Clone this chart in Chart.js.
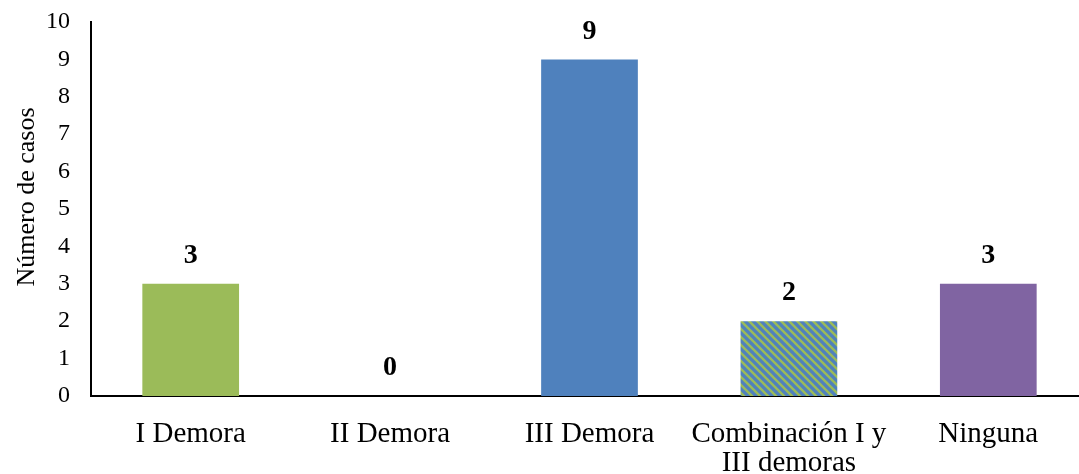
<!DOCTYPE html>
<html>
<head>
<meta charset="utf-8">
<script src="https://cdn.jsdelivr.net/npm/chart.js@4/dist/chart.umd.min.js"></script>
<style>
  html, body { margin: 0; padding: 0; background: #fff; overflow: hidden; }
  #wrap { width: 1090px; height: 474px; }
</style>
</head>
<body>
<div id="wrap"><canvas id="c" width="1090" height="474"></canvas></div>
<script>
// Número de casos por tipo de demora
const categories = ['I Demora', 'II Demora', 'III Demora', ['Combinación I y', 'III demoras'], 'Ninguna'];
const casos = [3, 0, 9, 2, 3];
const yMin = 0;
const yMax = 10;
const yTitle = 'Número de casos';

const GREEN = '#9BBB59';
const BLUE = '#4F81BD';
const PURPLE = '#8064A2';
const SERIF = '"Liberation Serif", "Times New Roman", serif';

// Diagonal green/blue stripes for the combined category
function stripePattern() {
  const s = 8;
  const t = document.createElement('canvas');
  t.width = s; t.height = s;
  const g = t.getContext('2d');
  g.fillStyle = GREEN;
  g.fillRect(0, 0, s, s);
  g.strokeStyle = BLUE;
  g.lineWidth = 3.2;
  g.beginPath();
  for (let k = -1; k <= 1; k++) {
    g.moveTo(k * s - 1, -1);
    g.lineTo(k * s + s + 1, s + 1);
  }
  g.stroke();
  return g.createPattern(t, 'repeat');
}

const ctx = document.getElementById('c').getContext('2d');
const barColors = [GREEN, GREEN, BLUE, stripePattern(), PURPLE];

// Bold value above each bar
const valueLabels = {
  id: 'valueLabels',
  afterDatasetsDraw(chart) {
    const c = chart.ctx;
    const meta = chart.getDatasetMeta(0);
    c.save();
    c.font = 'bold 28px ' + SERIF;
    c.fillStyle = '#000';
    c.textAlign = 'center';
    c.textBaseline = 'middle';
    meta.data.forEach((bar, i) => {
      c.fillText(String(casos[i]), bar.x, bar.y - 28);
    });
    c.restore();
  }
};

// Vertical y-axis title, sitting slightly above the middle of the axis
const axisTitle = {
  id: 'axisTitle',
  afterDraw(chart) {
    const c = chart.ctx;
    const a = chart.chartArea;
    c.save();
    c.translate(27, (a.top + a.bottom) / 2 - 12);
    c.rotate(-Math.PI / 2);
    c.font = '26px ' + SERIF;
    c.fillStyle = '#000';
    c.textAlign = 'center';
    c.textBaseline = 'middle';
    c.fillText(yTitle, 0, 0);
    c.restore();
  }
};

new Chart(ctx, {
  type: 'bar',
  data: {
    labels: categories,
    datasets: [{
      data: casos,
      backgroundColor: barColors,
      borderWidth: 0,
      categoryPercentage: 1,
      barPercentage: 0.485
    }]
  },
  options: {
    responsive: false,
    animation: false,
    devicePixelRatio: 1,
    layout: { padding: { top: 22, left: 0, right: 2, bottom: 0 } },
    plugins: { legend: { display: false }, tooltip: { enabled: false } },
    scales: {
      x: {
        grid: { display: false, drawTicks: false },
        border: { display: true, color: '#000', width: 2 },
        ticks: {
          color: '#000',
          padding: 24,
          maxRotation: 0,
          autoSkip: false,
          font: { family: SERIF, size: 29, lineHeight: 1.0 }
        },
        afterFit(s) { s.height = 78; }
      },
      y: {
        min: yMin,
        max: yMax,
        grid: { display: false, drawTicks: false },
        border: { display: true, color: '#000', width: 2 },
        ticks: {
          stepSize: 1,
          color: '#000',
          padding: 21,
          font: { family: SERIF, size: 24 }
        },
        title: { display: false },
        afterFit(s) {
          s.width = 91;
          s.paddingTop = 0;
          s.paddingBottom = 0;
        }
      }
    }
  },
  plugins: [valueLabels, axisTitle]
});
</script>
</body>
</html>
